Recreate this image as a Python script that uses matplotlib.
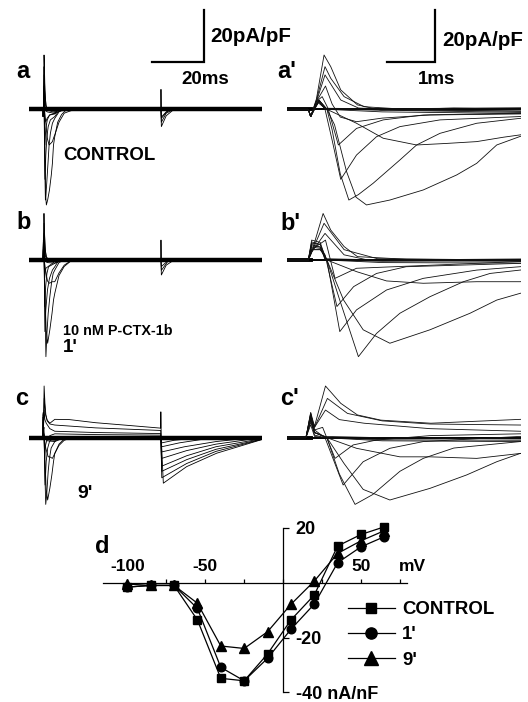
import matplotlib
matplotlib.use("Agg")
import matplotlib.pyplot as plt

plt.rcParams["font.family"] = ["Liberation Sans", "DejaVu Sans"]
plt.rcParams["font.weight"] = "bold"
plt.rcParams["axes.unicode_minus"] = False

W, H = 528, 702

# ---- I-V relation (panel d), nA/nF vs mV ----
volts = [-100, -85, -70, -55, -40, -25, -10, 5, 20, 35, 50, 65]
iv_control = [-1.6, -1.0, -1.0, -13.6, -34.9, -35.8, -26.0, -13.6, -4.5, 13.4, 17.6, 20.4]
iv_1min = [-1.6, -1.0, -1.0, -9.4, -30.9, -35.8, -27.6, -17.0, -7.8, 7.3, 13.1, 16.8]
iv_9min = [-0.5, -1.0, -1.0, -7.5, -23.1, -24.0, -17.9, -7.9, 0.6, 10.7, 15.3, 19.0]

# ---- current traces (ms, pA/pF), one list per test pulse ----
ctrl_traces = [
    [(-5.4, 0), (-0.05, 0), (0, -2.8), (0.08, 0.5), (0.16, 2.5), (0.3, 0.4), (1.5, 0.2), (4.4, 0.6), (45, 0), (84, 0)],
    [(-5.4, 0), (-0.05, 0), (0, -2.8), (0.08, 0.5), (0.16, 3.0), (0.3, 0.2), (1.5, -0.4), (4.4, -0.6), (45, 0), (84, 0)],
    [(-5.4, 0), (-0.05, 0), (0, -2.8), (0.08, 0.5), (0.16, 3.2), (0.32, 0), (1.5, -1.0), (4.4, -1.6), (8, 0), (45, 0), (84, 0)],
    [(-5.4, 0), (-0.05, 0), (0, -2.8), (0.1, 1.5), (0.18, 3.4), (0.34, 0), (0.96, -5.4), (1.52, -11.2), (2.22, -13.8),
     (2.85, -13.2), (3.48, -12.5), (4.04, -10.8), (4.39, -9.9), (6, -5), (8, -1.5), (12, 0), (45, 0), (45.15, -3.0),
     (47, -1), (50, 0), (84, 0)],
    [(-5.4, 0), (-0.05, 0), (0, -2.8), (0.18, 3.4), (0.34, 0), (0.5, -6), (0.75, -24), (0.95, -34), (1.17, -37),
     (1.66, -35.1), (2.36, -31.2), (3.06, -25.4), (3.48, -20.9), (3.9, -13.8), (4.39, -10.5), (5.5, -5), (7, -2),
     (9, 0), (45, 0), (45.15, -6.7), (47, -2.5), (50, 0), (84, 0)],
    [(-5.4, 0), (-0.05, 0), (0, -2.8), (0.18, 3.4), (0.34, 0), (0.45, -8), (0.62, -25), (0.8, -35.1), (1.0, -33),
     (1.31, -28.6), (1.87, -19.6), (2.22, -13.8), (2.71, -9.3), (3.48, -5.4), (4.39, -3.5), (6, -1), (8, 0), (45, 0),
     (45.15, -5), (47, -1.5), (50, 0), (84, 0)],
    [(-5.4, 0), (-0.05, 0), (0, -2.8), (0.16, 3.6), (0.3, 0), (0.45, -12), (0.63, -27.1), (0.96, -17.7), (1.38, -10.6),
     (1.87, -6.7), (2.71, -4.1), (4.39, -2.8), (6, -0.5), (8, 0), (45, 0), (45.15, -3.5), (48, 0), (84, 0)],
    [(-5.4, 0), (-0.05, 0), (0, -2.8), (0.12, 3), (0.24, 4.9), (0.36, 0.5), (0.58, -13.8), (0.96, -7.4), (1.52, -4.1),
     (2.36, -2.2), (4.39, -1.5), (6, 0), (84, 0)],
    [(-5.4, 0), (-0.05, 0), (0, -2.8), (0.12, 3), (0.31, 9.0), (0.45, 2), (0.62, -3), (0.96, -4.8), (1.5, -3.4),
     (2.5, -2.2), (4.39, -1.8), (6, 0), (84, 0)],
    [(-5.4, 0), (-0.05, 0), (0, -2.8), (0.12, 3), (0.3, 13.3), (0.63, 3.6), (1.0, 0.5), (2, -0.5), (4.39, -1.2),
     (6, 0), (84, 0)],
    [(-5.4, 0), (-0.05, 0), (0, -2.8), (0.12, 3.5), (0.3, 16.5), (0.42, 12), (0.7, 4.9), (1.12, 1), (2, 0),
     (4.39, -0.8), (6, 0), (84, 0)],
    [(-5.4, 0), (-0.05, 0), (0, -2.8), (0.12, 4), (0.28, 21), (0.42, 16.5), (0.63, 7.5), (0.98, 1.7), (1.47, -0.3),
     (3, 0.5), (4.39, 0), (44.95, 0), (45.0, 7.7), (45.1, 0), (84, 0)],
]

onemin_traces = [
    [(-5.4, 0), (-0.05, 0), (0.02, 5.5), (0.2, 5), (0.3, 0.5), (1.5, 0), (4.4, 0.4), (84, 0)],
    [(-5.4, 0), (-0.05, 0), (0.02, 6.5), (0.2, 6), (0.3, 0), (1.5, -0.5), (4.4, -0.3), (84, 0)],
    [(-5.4, 0), (-0.05, 0), (0.02, 7.7), (0.2, 6.8), (0.32, 0), (1.5, -1), (4.4, -1.2), (8, 0), (84, 0)],
    [(-5.4, 0), (-0.05, 0), (0.02, 7), (0.2, 6), (0.34, 0), (0.96, -4.5), (1.59, -8.1), (2.36, -9.0), (3.48, -8.4),
     (4.39, -8.4), (6, -5), (8, -2), (11, 0), (45, 0), (45.15, -2.5), (48, 0), (84, 0)],
    [(-5.4, 0), (-0.05, 0), (0.02, 6), (0.2, 5), (0.34, 0), (0.69, -15.5), (1.10, -27), (1.66, -32.2), (2.5, -27),
     (3.34, -20.6), (3.9, -15.5), (4.39, -12.9), (6, -6), (8, -2.5), (11, 0), (45, 0), (45.15, -5.8), (47, -2),
     (50, 0), (84, 0)],
    [(-5.4, 0), (-0.05, 0), (0.02, 5), (0.2, 4.5), (0.34, 0), (0.6, -15), (1.0, -37.4), (1.38, -28.4), (1.87, -20.6),
     (2.5, -14.2), (3.2, -8.4), (3.76, -5.2), (4.39, -3.9), (6, -1), (8, 0), (45, 0), (45.15, -4), (48, 0), (84, 0)],
    [(-5.4, 0), (-0.05, 0), (0.02, 4), (0.2, 4), (0.34, 0), (0.61, -27.7), (0.96, -19.3), (1.59, -11.6),
     (2.36, -7.1), (3.48, -3.9), (4.39, -2.6), (6, 0), (84, 0)],
    [(-5.4, 0), (-0.05, 0), (0.02, 4), (0.2, 4), (0.3, 2), (0.55, -18), (0.9, -10.3), (1.38, -5.2), (2.0, -2.6),
     (4.39, -1.3), (6, 0), (84, 0)],
    [(-5.4, 0), (-0.05, 0), (0.02, 4), (0.31, 7.7), (0.51, -7.1), (0.96, -3.2), (4.39, -0.6), (6, 0), (84, 0)],
    [(-5.4, 0), (-0.05, 0), (0.02, 3), (0.3, 10.3), (0.7, 2), (1.2, 0), (4.39, -0.5), (84, 0)],
    [(-5.4, 0), (-0.05, 0), (0.02, 3), (0.28, 14.2), (0.7, 4), (1.4, 0.5), (4.39, 0), (84, 0)],
    [(-5.4, 0), (-0.05, 0), (0.02, 3), (0.26, 18), (0.42, 11.6), (0.7, 5.2), (0.98, 1.3), (2, 0.3), (4.39, 0),
     (44.95, 0), (45, 7.7), (45.1, 0), (84, 0)],
]

ninemin_traces = [
    [(-5.4, 0), (-0.1, 0), (0, 9.7), (0.08, 2), (0.3, 0.5), (1.5, 0), (4.4, -0.5), (84, 0)],
    [(-5.4, 0), (-0.1, 0), (0, 7), (0.08, 1), (0.3, 0), (1.5, -0.8), (4.4, -1.0), (8, 0), (84, 0)],
    [(-5.4, 0), (-0.1, 0), (0, 5), (0.08, 0.5), (0.3, 0), (1.5, -1.2), (4.4, -1.5), (8, 0), (84, 0)],
    [(-5.4, 0), (-0.1, 0), (0, 6), (0.08, 2), (0.34, 0), (0.96, -4.1), (1.87, -7.4), (2.5, -7.4), (3.48, -8.0),
     (4.39, -6.1), (6, -3), (8, -1), (11, 0), (45, 0), (45.3, -2), (50, -1), (60, 0), (84, 0)],
    [(-5.4, 0), (-0.1, 0), (0, 8), (0.08, 2), (0.34, 0), (0.7, -10), (1.1, -20), (1.66, -24.1), (2.5, -19.6),
     (3.27, -14.4), (3.9, -9.3), (4.39, -6.1), (6, -2.5), (8, -0.5), (11, 0), (45, 0), (45.3, -3.5), (52, -2),
     (65, 0), (84, 0)],
    [(-5.4, 0), (-0.1, 0), (0, 7), (0.08, 2), (0.34, 0), (0.6, -14), (0.93, -25.8), (1.3, -22), (1.87, -13),
     (2.36, -8), (3.0, -4), (4.39, -1.5), (6, 0), (45, 0), (45.3, -5.5), (54, -3.5), (66, -1.5), (80, 0), (84, 0)],
    [(-5.4, 0), (-0.1, 0), (0, 8), (0.08, 3), (0.3, 0), (0.68, -18.3), (1.1, -9.3), (1.66, -4.1), (2.36, -1.5),
     (4.39, 0.5), (10, 0.5), (45, 0), (45.3, -8), (54.8, -5), (66, -2.5), (80, -0.5), (84, 0)],
    [(-5.4, 0), (-0.1, 0), (0, 9), (0.08, 3), (0.25, 4), (0.51, -8.0), (0.89, -2.8), (1.38, -0.9), (2.5, 0.8),
     (4.39, 1.5), (20, 1.2), (44.9, 1), (45.3, -11), (54.8, -7), (66, -3.5), (83, -0.5)],
    [(-5.4, 0), (-0.1, 0), (0, 9), (0.08, 4), (0.31, 10.7), (0.6, 7), (1.12, 5.6), (2.5, 3.5), (4.39, 2.5), (20, 2),
     (44.9, 1.6), (45.3, -13), (54.8, -8.5), (66, -4.5), (83, -0.7)],
    [(-5.4, 0), (-0.1, 0), (0, 8), (0.08, 4), (0.35, 15.2), (0.77, 9.4), (1.5, 6.5), (2.5, 5.3), (4.39, 4.9),
     (20, 3.8), (44.9, 2.8), (45.3, -15.5), (54.8, -10), (66, -5.3), (83, -0.8)],
    [(-5.4, 0), (-0.1, 0), (0, 9.7), (0.08, 4.4), (0.31, 20), (0.63, 13.3), (0.98, 8.8), (1.47, 6.8), (2.52, 5.6),
     (4.4, 7.1), (10, 7), (20, 5.8), (32, 4.8), (44.9, 3.7), (44.95, 10), (45.1, 0), (45.9, -17.6), (54.8, -11.2),
     (66.3, -6.0), (83, -0.9)],
]

SCALE_I = 20      # pA/pF
SCALE_SLOW = 20   # ms
SCALE_FAST = 1    # ms

# ---- layout helpers (pixel geometry of the original figure) ----
PX_PER_I = 2.585
fig = plt.figure(figsize=(W / 100, H / 100), dpi=100)


def px(x, y):
    return x / W, 1 - y / H


def trace_axes(x0, x1, stim_px, px_per_ms, base, top_px, bot_px):
    ax = fig.add_axes([x0 / W, 1 - bot_px / H, (x1 - x0) / W, (bot_px - top_px) / H])
    ax.set_xlim((x0 - stim_px) / px_per_ms, (x1 - stim_px) / px_per_ms)
    ax.set_ylim((base - bot_px) / PX_PER_I, (base - top_px) / PX_PER_I)
    ax.axis("off")
    ax.patch.set_visible(False)
    return ax


panels = [
    (ctrl_traces, 109.3, 5, 215),
    (onemin_traces, 260.0, 190, 370),
    (ninemin_traces, 437.7, 372, 525),
]
slow_axes, fast_axes = [], []
for traces, base, top, bot in panels:
    axl = trace_axes(29.3, 261.7, 43.3, 2.615, base, top, bot)
    axr = trace_axes(287, 521, 310.7, 47.7, base, top, bot)
    axl.axhline(0, color="k", lw=3.2)
    axr.plot([-0.5, 0], [0, 0], color="k", lw=2.8)
    axr.axhline(0, color="k", lw=1.4)
    for tr in traces:
        t = [p[0] for p in tr]
        i = [p[1] for p in tr]
        axl.plot(t, i, color="k", lw=0.6)
        axr.plot(t, i, color="#111111", lw=0.6)
    slow_axes.append(axl)
    fast_axes.append(axr)

# scale bars
ax = slow_axes[0]
ax.plot([41.5, 41.5 + SCALE_SLOW, 41.5 + SCALE_SLOW], [18.4, 18.4, 18.4 + SCALE_I], color="k", lw=1.6,
        solid_joinstyle="miter")
ax = fast_axes[0]
ax.plot([1.6, 1.6 + SCALE_FAST, 1.6 + SCALE_FAST], [18.4, 18.4, 18.4 + SCALE_I], color="k", lw=1.6,
        solid_joinstyle="miter")

fig.text(*px(210, 37), "20pA/pF", fontsize=14.8, va="center", ha="left")
fig.text(*px(442, 40), "20pA/pF", fontsize=14.8, va="center", ha="left")
fig.text(*px(205, 79), "20ms", fontsize=13.5, va="center", ha="center")
fig.text(*px(437, 79), "1ms", fontsize=13.5, va="center", ha="center")

for lab, x, y in [("a", 16, 78.3), ("b", 16, 229.3), ("c", 15, 405), ("a'", 277, 78.3), ("b'", 280, 230),
                  ("c'", 280, 405), ("d", 95, 553.3)]:
    fig.text(*px(x, y), lab, fontsize=17, va="baseline", ha="left")

fig.text(*px(63, 160), "CONTROL", fontsize=13.4, va="baseline", ha="left")
fig.text(*px(63, 335), "10 nM P-CTX-1b", fontsize=10.4, va="baseline", ha="left")
fig.text(*px(63, 351.7), "1'", fontsize=13.5, va="baseline", ha="left")
fig.text(*px(77, 498.3), "9'", fontsize=14, va="baseline", ha="left")

# ---- I-V axes ----
ax = fig.add_axes([103.3 / W, 1 - 700 / H, (406.7 - 103.3) / W, (700 - 515) / H])
ax.set_xlim(-115.4, 79.3)
ax.set_ylim((582.7 - 700) / 2.74, (582.7 - 515) / 2.74)
ax.patch.set_visible(False)
ax.plot(volts, iv_control, color="k", lw=0.9, marker="s", ms=5.5, label="CONTROL")
ax.plot(volts, iv_1min, color="k", lw=0.9, marker="o", ms=6.2, label="1'")
ax.plot(volts, iv_9min, color="k", lw=0.9, marker="^", ms=7.2, label="9'")

ax.spines["left"].set_visible(False)
ax.spines["top"].set_visible(False)
ax.spines["right"].set_position(("data", 0))
ax.spines["right"].set_bounds(-40, 20)
ax.spines["bottom"].set_position(("data", 0))
for s in ("right", "bottom"):
    ax.spines[s].set_linewidth(0.9)

ax.set_xticks([-100, -75, -50, -25, 0, 25, 50, 75])
ax.set_xticklabels(["-100", "", "-50", "", "", "", "50", ""])
ax.tick_params(axis="x", direction="in", length=3, width=0.9, pad=-17, labelsize=12.5)
ax.yaxis.tick_right()
ax.set_yticks([20, -20, -40])
ax.set_yticklabels(["20", "-20", "-40 nA/nF"])
ax.tick_params(axis="y", direction="out", length=4, width=0.9, pad=5, labelsize=13)
ax.text(74.5, 5.8, "mV", fontsize=12.5, ha="left", va="center")

ax.legend(loc="upper left", bbox_to_anchor=px(348, 601), bbox_transform=fig.transFigure, frameon=False,
          borderpad=0, borderaxespad=0, handlelength=2.5, handletextpad=0.4, labelspacing=0.45,
          prop={"weight": "bold", "size": 13.4}, markerscale=1.3)

fig.savefig("out.png", dpi=100)
